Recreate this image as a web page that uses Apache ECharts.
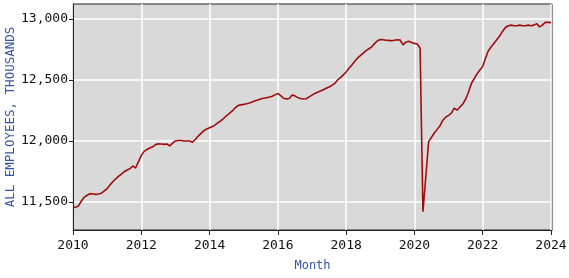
<!DOCTYPE html>
<html>
<head>
<meta charset="utf-8">
<script src="https://cdn.jsdelivr.net/npm/echarts@6/dist/echarts.min.js"></script>
<style>
  html, body { margin: 0; padding: 0; background: #ffffff; }
  #chart { width: 569px; height: 278px; }
</style>
</head>
<body>
<div id="chart"></div>
<script>
// Monthly values (thousands), Jan..Dec of each year
const y2010 = [11460, 11455, 11470, 11510, 11540, 11555, 11568, 11565, 11562, 11565, 11572, 11590];
const y2011 = [11610, 11640, 11665, 11690, 11710, 11728, 11748, 11762, 11772, 11795, 11778, 11830];
const y2012 = [11880, 11915, 11930, 11942, 11952, 11970, 11976, 11975, 11972, 11975, 11960, 11982];
const y2013 = [12000, 12004, 12004, 12000, 12000, 12000, 11990, 12012, 12040, 12062, 12085, 12098];
const y2014 = [12108, 12118, 12132, 12150, 12166, 12186, 12208, 12226, 12246, 12272, 12290, 12296];
const y2015 = [12300, 12305, 12312, 12320, 12330, 12336, 12345, 12350, 12355, 12360, 12366, 12378];
const y2016 = [12390, 12372, 12350, 12345, 12348, 12376, 12370, 12355, 12348, 12344, 12346, 12362];
const y2017 = [12376, 12390, 12400, 12410, 12420, 12432, 12442, 12456, 12472, 12500, 12520, 12542];
const y2018 = [12566, 12596, 12622, 12652, 12680, 12700, 12720, 12740, 12756, 12772, 12798, 12822];
const y2019 = [12832, 12830, 12826, 12825, 12822, 12826, 12830, 12828, 12788, 12810, 12818, 12808];
const y2020 = [12800, 12795, 12760, 11420, 11705, 11995, 12030, 12065, 12095, 12125, 12170, 12195];
const y2021 = [12210, 12228, 12270, 12252, 12278, 12302, 12342, 12400, 12470, 12510, 12550, 12582];
const y2022 = [12610, 12680, 12740, 12772, 12802, 12832, 12862, 12900, 12930, 12945, 12950, 12945];
const y2023 = [12945, 12950, 12945, 12945, 12950, 12945, 12950, 12962, 12935, 12950, 12972, 12972];
const y2024 = [12970];

const startYear = 2010;
const yTicks = [11500, 12000, 12500, 13000];
const xTicks = [2010, 2012, 2014, 2016, 2018, 2020, 2022, 2024];
const yAxisTitle = 'ALL EMPLOYEES, THOUSANDS';
const xAxisTitle = 'Month';

const values = [].concat(y2010, y2011, y2012, y2013, y2014, y2015, y2016,
  y2017, y2018, y2019, y2020, y2021, y2022, y2023, y2024);
const seriesData = values.map((v, i) => [startYear + i / 12, v]);

const mono = 'DejaVu Sans Mono';
const chart = echarts.init(document.getElementById('chart'), null, { renderer: 'canvas' });
chart.setOption({
  animation: false,
  backgroundColor: '#ffffff',
  grid: {
    left: 73, right: 17, top: 4, bottom: 48,
    containLabel: false, outerBoundsMode: 'none',
    show: true, backgroundColor: '#d9d9d9', borderColor: '#222', borderWidth: 1
  },
  xAxis: {
    type: 'value',
    min: 2010, max: 2024.03,
    name: xAxisTitle,
    nameLocation: 'middle',
    nameGap: 30,
    nameMoveOverlap: false,
    nameTextStyle: { color: '#3355a0', fontFamily: mono, fontSize: 12 },
    axisLine: { show: true, onZero: false, lineStyle: { color: '#222', width: 1 } },
    axisTick: { show: true, length: 5, customValues: xTicks, lineStyle: { color: '#222' } },
    axisLabel: {
      customValues: xTicks, margin: 9, color: '#111', fontFamily: mono, fontSize: 13,
      formatter: v => String(Math.round(v))
    },
    splitLine: { show: true, lineStyle: { color: '#ffffff', width: 1.5 } }
  },
  yAxis: {
    type: 'value',
    min: 11270, max: 13123,
    name: yAxisTitle,
    nameLocation: 'middle',
    nameRotate: 90,
    nameGap: 56,
    nameMoveOverlap: false,
    nameTextStyle: { color: '#3355a0', fontFamily: mono, fontSize: 12.5 },
    axisLine: { show: true, lineStyle: { color: '#222', width: 1 } },
    axisTick: { show: true, length: 4, customValues: yTicks, lineStyle: { color: '#222' } },
    axisLabel: {
      customValues: yTicks, margin: 5, color: '#111', fontFamily: mono, fontSize: 13,
      formatter: v => v.toLocaleString('en-US')
    },
    splitLine: { show: true, lineStyle: { color: '#ffffff', width: 1.5 } }
  },
  series: [{
    type: 'line',
    data: seriesData,
    showSymbol: false,
    lineStyle: { color: '#a00d0d', width: 1.6 },
    itemStyle: { color: '#a00d0d' }
  }]
});
</script>
</body>
</html>
